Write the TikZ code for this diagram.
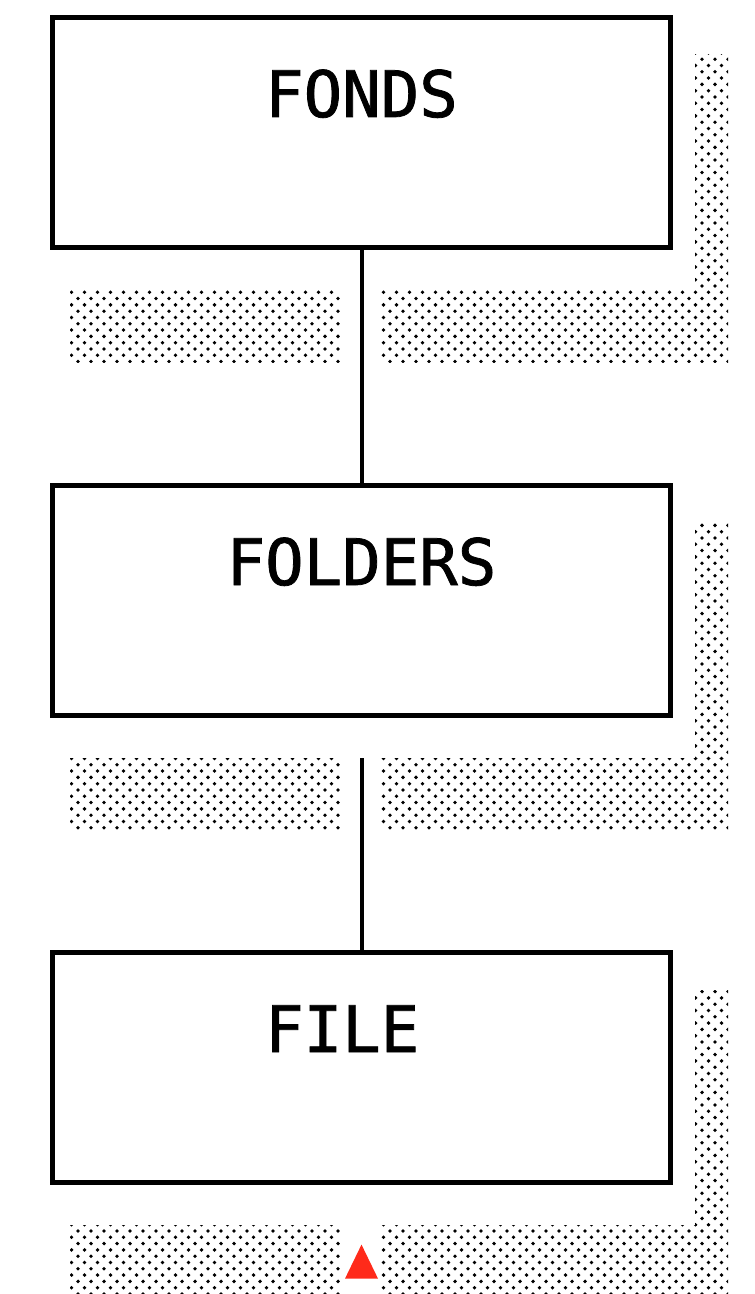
\documentclass[tikz,border=0pt]{standalone}
\usepackage{fontspec}
\usepackage{tikz}
\usepackage{xcolor}
\usetikzlibrary{positioning,shapes,patterns}
\newfontfamily\boxfont[FakeBold=1.2]{DejaVu Sans Mono}
\definecolor{markred}{HTML}{FF2A1A}

\pgfdeclarepatternformonly{shadowdots}{\pgfqpoint{-1.5pt}{-1.5pt}}{\pgfqpoint{8pt}{7.8pt}}{\pgfqpoint{6.5pt}{6.3pt}}
{
  \pgfpathcircle{\pgfqpoint{0pt}{0pt}}{0.95pt}
  \pgfpathcircle{\pgfqpoint{3.25pt}{3.15pt}}{0.95pt}
  \pgfusepath{fill}
}

\tikzset{
  docbox/.style={draw=black, line width=2.3pt, fill=white, minimum width=309.2pt, minimum height=115.2pt, inner sep=0pt},
  boxlabel/.style={font=\boxfont\fontsize{32}{32}\selectfont, inner sep=0pt, anchor=base},
  shade/.style={pattern=shadowdots, draw=none},
  link/.style={draw=black, line width=2pt},
  marker/.style={isosceles triangle, isosceles triangle stretches, shape border rotate=90, minimum width=16.5pt, minimum height=17pt, inner sep=0pt, fill=markred, draw=none}
}

% dotted shadow right of and below a box
\newcommand{\dropshade}[1]{
  \fill[shade] ([xshift=11pt,yshift=-20pt]#1.north east) rectangle ([xshift=27.5pt,yshift=-20pt]#1.south east);
  \fill[shade] ([xshift=10pt,yshift=-20pt]#1.south west) rectangle ([xshift=-10.75pt,yshift=-56pt]#1.south);
  \fill[shade] ([xshift=9.25pt,yshift=-20pt]#1.south) rectangle ([xshift=27.5pt,yshift=-56pt]#1.south east);
}

\begin{document}
\begin{tikzpicture}[x=0.5pt,y=-0.5pt]
\useasboundingbox (0,0) rectangle (754,1294);

\node[docbox] (fonds) at (361.5,132.5) {};
\node[docbox] (folders) at (361.5,600.5) {};
\node[docbox] (file) at (361.5,1067.5) {};

\dropshade{fonds}
\dropshade{folders}
\dropshade{file}

\node[boxlabel] (fondslabel) at ([yshift=-51pt]fonds.north) {FONDS};
\node[boxlabel] (folderslabel) at ([yshift=-51pt]folders.north) {FOLDERS};
\node[boxlabel] (filelabel) at ([yshift=-51pt]file.north) {FILE\phantom{E}};

\coordinate (foldersgap) at ([yshift=-20pt]folders.south);
\draw[link] (fonds.south) -- (folders.north);
\draw[link] (foldersgap) -- (file.north);

\node[marker, anchor=lower side] (filemark) at ([yshift=-47pt]file.south) {};
\end{tikzpicture}
\end{document}
